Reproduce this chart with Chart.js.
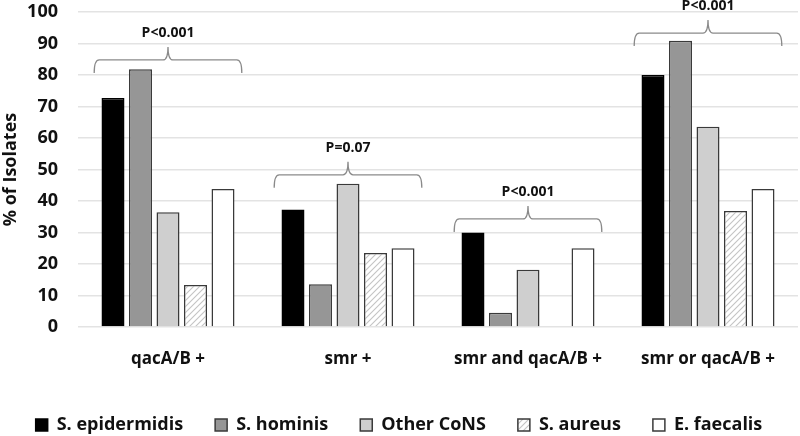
<!DOCTYPE html>
<html>
<head>
<meta charset="utf-8">
<script src="https://cdn.jsdelivr.net/npm/chart.js@4/dist/chart.umd.min.js"></script>
<style>
  html, body { margin: 0; padding: 0; background: #fff; }
  #wrap { width: 800px; height: 436px; position: relative; }
</style>
</head>
<body>
<div id="wrap"><canvas id="c"></canvas></div>
<script>
// ---- data ----
const categories = ["qacA/B +", "smr +", "smr and qacA/B +", "smr or qacA/B +"];
const seriesNames = ["S. epidermidis", "S. hominis", "Other CoNS", "S. aureus", "E. faecalis"];
const sEpidermidis = [72.7, 37.3, 30.0, 80.0];
const sHominis = [81.8, 13.6, 4.5, 90.9];
const otherCoNS = [36.4, 45.5, 18.2, 63.6];
const sAureus = [13.3, 23.5, 0, 36.8];
const eFaecalis = [43.8, 25.0, 25.0, 43.8];
const pLabels = ["P<0.001", "P=0.07", "P<0.001", "P<0.001"];
const braceLevels = [84.8, 48.3, 34.3, 93.3];
const yTicks = [0, 10, 20, 30, 40, 50, 60, 70, 80, 90, 100];

// ---- hatch pattern ----
function hatch() {
  const p = document.createElement('canvas');
  p.width = 6; p.height = 6;
  const g = p.getContext('2d');
  g.fillStyle = '#ffffff';
  g.fillRect(0, 0, 6, 6);
  g.strokeStyle = '#c4c4c4';
  g.lineWidth = 1.1;
  g.beginPath();
  g.moveTo(-1, 7); g.lineTo(7, -1);
  g.moveTo(-1, 1); g.lineTo(1, -1);
  g.moveTo(5, 7); g.lineTo(7, 5);
  g.stroke();
  return g.createPattern(p, 'repeat');
}

const FONT = "'Open Sans', 'DejaVu Sans', sans-serif";

const bracePlugin = {
  id: 'braces',
  afterInit(chart) {
    const lg = chart.legend;
    if (lg) {
      const orig = lg.fit;
      lg.fit = function () { orig.call(this); this.height = 52; };
    }
  },
  afterDatasetsDraw(chart) {
    const ctx = chart.ctx;
    const xs = chart.scales.x, ys = chart.scales.y;
    const catW = (xs.getPixelForValue(1) - xs.getPixelForValue(0));
    ctx.save();
    ctx.strokeStyle = '#8a8a8a';
    ctx.lineWidth = 1.3;
    for (let i = 0; i < categories.length; i++) {
      const cx = xs.getPixelForValue(i);
      const y = ys.getPixelForValue(braceLevels[i]);
      const hw = catW * 0.41;
      const l = cx - hw, r = cx + hw;
      const drop = 13, rise = 13, rad = 5;
      ctx.beginPath();
      ctx.moveTo(l, y + drop);
      ctx.quadraticCurveTo(l, y, l + rad, y);
      ctx.lineTo(cx - rad, y);
      ctx.quadraticCurveTo(cx, y, cx, y - rise);
      ctx.quadraticCurveTo(cx, y, cx + rad, y);
      ctx.lineTo(r - rad, y);
      ctx.quadraticCurveTo(r, y, r, y + drop);
      ctx.stroke();
      ctx.fillStyle = '#111';
      ctx.font = "bold 14px " + FONT;
      ctx.textAlign = 'center';
      ctx.textBaseline = 'middle';
      ctx.fillText(pLabels[i], cx, y - rise - 14);
    }
    ctx.restore();
  }
};

const border = '#3a3a3a';
const colors = ['#000000', '#969696', '#cfcfcf', hatch(), '#ffffff'];
const values = [sEpidermidis, sHominis, otherCoNS, sAureus, eFaecalis];

new Chart(document.getElementById('c'), {
  type: 'bar',
  data: {
    labels: categories,
    datasets: seriesNames.map((n, i) => ({
      label: n,
      data: values[i],
      backgroundColor: colors[i],
      borderColor: i === 0 ? '#000' : border,
      borderWidth: 1.5,
      borderSkipped: 'start',
      categoryPercentage: 0.764,
      barPercentage: 0.836
    }))
  },
  options: {
    responsive: true,
    maintainAspectRatio: false,
    animation: false,
    devicePixelRatio: 1,
    layout: { padding: { top: 0, right: 2, left: 0, bottom: 0 } },
    plugins: {
      legend: {
        position: 'bottom',
        labels: {
          boxWidth: 12,
          boxHeight: 12,
          padding: 32,
          color: '#111',
          font: { family: FONT, size: 18, weight: 'bold' }
        }
      },
      tooltip: { enabled: false }
    },
    scales: {
      x: {
        grid: { display: false },
        border: { display: false },
        afterFit(scale) { scale.height = 57; },
        ticks: {
          color: '#111',
          padding: 14,
          font: { family: FONT, size: 17, weight: 'bold' }
        }
      },
      y: {
        min: 0,
        max: 100,
        afterBuildTicks(scale) { scale.ticks = yTicks.map(v => ({ value: v })); },
        afterFit(scale) { scale.width = 78; scale.paddingTop = 12; scale.paddingBottom = 12; },
        grid: { color: '#e3e3e3', lineWidth: 1.5, drawTicks: false },
        border: { display: false },
        ticks: {
          color: '#111',
          padding: 20,
          font: { family: FONT, size: 18, weight: 'bold' }
        },
        title: {
          display: true,
          text: '% of Isolates',
          color: '#111',
          padding: { top: 0, bottom: 4 },
          font: { family: FONT, size: 18, weight: 'bold' }
        }
      }
    }
  },
  plugins: [bracePlugin]
});
</script>
</body>
</html>
